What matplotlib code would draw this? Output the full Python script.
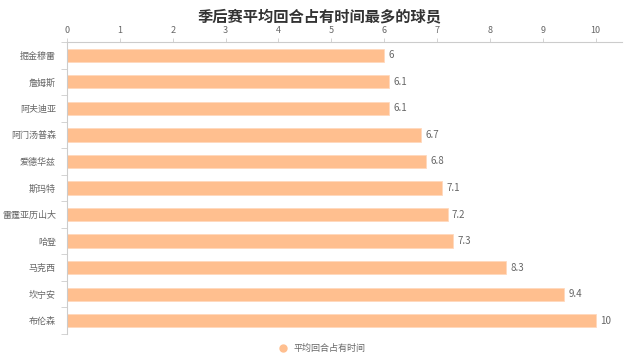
import numpy as np
import matplotlib.pyplot as plt
from matplotlib.lines import Line2D

plt.rcParams['font.family'] = ['Noto Sans CJK SC', 'DejaVu Sans']

players = ['掘金穆雷', '詹姆斯', '阿夫迪亚', '阿门汤普森', '爱德华兹', '斯玛特',
           '雷霆亚历山大', '哈登', '马克西', '坎宁安', '布伦森']
minutes = [6, 6.1, 6.1, 6.7, 6.8, 7.1, 7.2, 7.3, 8.3, 9.4, 10]
x_ticks = list(range(0, 11))

bar_color = '#FFBF8F'
text_color = '#666666'
axis_color = '#CCCCCC'

fig = plt.figure(figsize=(6.4, 3.61), dpi=100)
ax = fig.add_axes([0.1047, 0.0748, 0.8673, 0.8089])

y = np.arange(len(players))
ax.barh(y, minutes, height=0.5, color=bar_color, edgecolor='#FFD9BD', linewidth=0.6)
for yi, v in zip(y, minutes):
    ax.text(v + 0.08, yi, f'{v:g}', va='center', ha='left', fontsize=7, color=text_color)

ax.set_ylim(len(players) - 0.5, -0.5)
ax.set_xlim(0, 10.5)

ax.xaxis.tick_top()
ax.set_xticks(x_ticks)
ax.tick_params(axis='x', which='major', length=3, width=0.6, color=axis_color,
               labelsize=6.5, labelcolor=text_color, pad=2)

ax.set_yticks(y)
ax.set_yticklabels(players)
ax.set_yticks(np.arange(-0.5, len(players) + 0.5, 1), minor=True)
ax.tick_params(axis='y', which='major', length=0, labelsize=6.5, labelcolor=text_color, pad=8)
ax.tick_params(axis='y', which='minor', length=4, width=0.6, color=axis_color)

for s in ['right', 'bottom']:
    ax.spines[s].set_visible(False)
for s in ['top', 'left']:
    ax.spines[s].set_color(axis_color)
    ax.spines[s].set_linewidth(0.8)

fig.text(0.5, 0.955, '季后赛平均回合占有时间最多的球员', ha='center', va='center',
         fontsize=11, fontweight='bold', color='#333333')

handle = Line2D([], [], marker='o', linestyle='none', markersize=5,
                markerfacecolor=bar_color, markeredgecolor=bar_color)
fig.legend([handle], ['平均回合占有时间'], loc='center', bbox_to_anchor=(0.5, 0.035),
           frameon=False, fontsize=6.5, labelcolor=text_color, handletextpad=0.2)

fig.savefig('out.png', dpi=100)
